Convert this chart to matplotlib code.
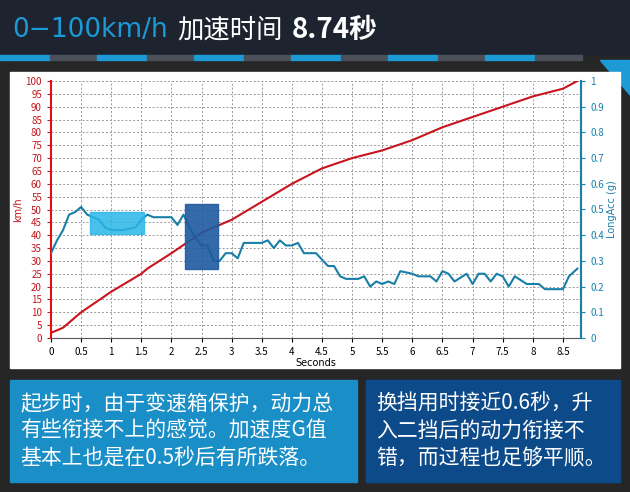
import matplotlib
matplotlib.use("Agg")
import matplotlib.pyplot as plt
from matplotlib.patches import Rectangle, Polygon

plt.rcParams['font.family'] = ['Noto Sans CJK SC', 'DejaVu Sans']

t_speed = [0, 0.1, 0.2, 0.3, 0.5, 0.75, 1.0, 1.25, 1.5, 1.6, 1.8, 2.0, 2.25, 2.5, 2.75, 3.0, 3.25, 3.5, 3.75, 4.0, 4.25, 4.5, 4.75, 5.0, 5.5, 6.0, 6.5, 7.0, 7.5, 8.0, 8.5, 8.74]
speed = [2, 3, 4, 6, 10, 14, 18, 21.5, 25, 27, 30, 33, 37, 41, 43.5, 46, 49.5, 53, 56.5, 60, 63, 66, 68, 70, 73, 77, 82, 86, 90, 94, 97, 100]

t_acc = [0, 0.1, 0.2, 0.3, 0.4, 0.5, 0.6, 0.7, 0.8, 0.9, 1.0, 1.2, 1.4, 1.5, 1.6, 1.7, 1.8, 2.0, 2.1, 2.2, 2.3, 2.4, 2.5, 2.6, 2.7, 2.8, 2.9, 3.0, 3.1, 3.2, 3.4, 3.5, 3.6, 3.7, 3.8, 3.9, 4.0, 4.1, 4.2, 4.4, 4.6, 4.7, 4.8, 4.9, 5.1, 5.2, 5.3, 5.4, 5.5, 5.6, 5.7, 5.8, 6.0, 6.1, 6.3, 6.4, 6.5, 6.6, 6.7, 6.9, 7.0, 7.1, 7.2, 7.3, 7.4, 7.5, 7.6, 7.7, 7.9, 8.1, 8.2, 8.5, 8.6, 8.74]
acc = [0.33, 0.38, 0.42, 0.48, 0.49, 0.51, 0.48, 0.47, 0.46, 0.43, 0.42, 0.42, 0.43, 0.46, 0.48, 0.47, 0.47, 0.47, 0.44, 0.48, 0.43, 0.39, 0.36, 0.36, 0.30, 0.30, 0.33, 0.33, 0.31, 0.37, 0.37, 0.37, 0.38, 0.35, 0.38, 0.36, 0.36, 0.37, 0.33, 0.33, 0.28, 0.28, 0.24, 0.23, 0.23, 0.24, 0.20, 0.22, 0.21, 0.22, 0.21, 0.26, 0.25, 0.24, 0.24, 0.22, 0.26, 0.25, 0.22, 0.25, 0.21, 0.25, 0.25, 0.22, 0.25, 0.24, 0.20, 0.24, 0.21, 0.21, 0.19, 0.19, 0.24, 0.27]

x_ticks = [0, 0.5, 1, 1.5, 2, 2.5, 3, 3.5, 4, 4.5, 5, 5.5, 6, 6.5, 7, 7.5, 8, 8.5]
text_left = "起步时，由于变速箱保护，动力总\n有些衔接不上的感觉。加速度G值\n基本上也是在0.5秒后有所跌落。"
text_right = "换挡用时接近0.6秒，升\n入二挡后的动力衔接不\n错，而过程也足够平顺。"

W, H = 630, 492
fig = plt.figure(figsize=(6.3, 4.92), dpi=100)
fig.patch.set_facecolor('#262626')

def R(x0, y0, x1, y1, **kw):
    fig.patches.append(Rectangle((x0 / W, 1 - y1 / H), (x1 - x0) / W, (y1 - y0) / H, transform=fig.transFigure, **kw))

R(0, 0, 630, 55, color='#1e2330', zorder=0)
for i in range(6):
    x = i * 97
    R(x, 55, x + 50, 60, color='#1b9ad6', zorder=1)
    R(x + 50, 55, x + 97, 60, color='#4a4f5a', zorder=1)
fig.patches.append(Polygon([(600 / W, 1 - 60 / H), (630 / W, 1 - 60 / H), (630 / W, 1 - 95 / H)], closed=True, transform=fig.transFigure, color='#1b9ad6'))
R(10, 72, 620, 368, color='white', zorder=1)
R(10, 380, 357, 482, color='#1a8ec6', zorder=1)
R(366, 380, 620, 482, color='#0d4a8a', zorder=1)

fig.text(12 / W, 1 - 30 / H, "0−100km/h", color='#1b9ad6', fontsize=19, va='center', family=['DejaVu Sans'])
fig.text(177 / W, 1 - 30 / H, "加速时间", color='white', fontsize=19, va='center')
fig.text(292 / W, 1 - 30 / H, "8.74秒", color='white', fontsize=20, va='center', fontweight='bold')
fig.text(20 / W, 1 - 431 / H, text_left, color='white', fontsize=15, va='center', linespacing=1.3)
fig.text(376 / W, 1 - 431 / H, text_right, color='white', fontsize=15, va='center', linespacing=1.3)

ax = fig.add_axes([51 / W, 1 - 338 / H, (581 - 51) / W, (338 - 81) / H])
ax.set_zorder(3)
ax.set_facecolor('white')
ax.set_xlim(0, 8.8)
ax.set_ylim(0, 100)
ax.set_xticks(x_ticks)
ax.set_xticklabels([f"{v:g}" for v in x_ticks])
ax.set_yticks(range(0, 101, 5))
ax.grid(True, color='#999999', linestyle=(0, (2, 2)), linewidth=0.7)
ax.tick_params(axis='y', colors='#c0171c', labelsize=7, length=3)
ax.tick_params(axis='x', labelsize=7, length=3)
ax.spines['left'].set_color('#e01010'); ax.spines['left'].set_linewidth(1.5)
ax.spines['right'].set_color('#1a7fa8'); ax.spines['right'].set_linewidth(1.5)
ax.spines['top'].set_visible(False)
ax.spines['bottom'].set_color('#555555')
ax.set_ylabel("km/h", color='#c0171c', fontsize=7, labelpad=2, family=['DejaVu Sans'])
ax.set_xlabel("Seconds", fontsize=7, labelpad=1, family=['DejaVu Sans'])
ax.plot(t_speed, speed, color='#c8141c', linewidth=1.5, zorder=3)

ax2 = ax.twinx()
ax2.set_ylim(0, 1)
ax2.set_yticks([i / 10 for i in range(11)])
ax2.set_yticklabels([f"{i/10:g}" for i in range(11)])
ax2.tick_params(axis='y', colors='#1a7fa8', labelsize=7, length=3)
ax2.set_ylabel("LongAcc (g)", color='#1a7fa8', fontsize=7, labelpad=2, family=['DejaVu Sans'])
for s in ['top', 'left', 'bottom']:
    ax2.spines[s].set_visible(False)
ax2.spines['right'].set_color('#1a7fa8'); ax2.spines['right'].set_linewidth(1.5)
ax2.plot(t_acc, acc, color='#1a7fa8', linewidth=1.5, zorder=3)
ax2.add_patch(Rectangle((0.65, 0.405), 0.9, 0.085, color='#29b6e8', alpha=0.85, zorder=4))
ax2.add_patch(Rectangle((2.22, 0.27), 0.56, 0.25, color='#1f5aa0', alpha=0.9, zorder=4))

fig.savefig("out.png", dpi=100, facecolor=fig.get_facecolor())
